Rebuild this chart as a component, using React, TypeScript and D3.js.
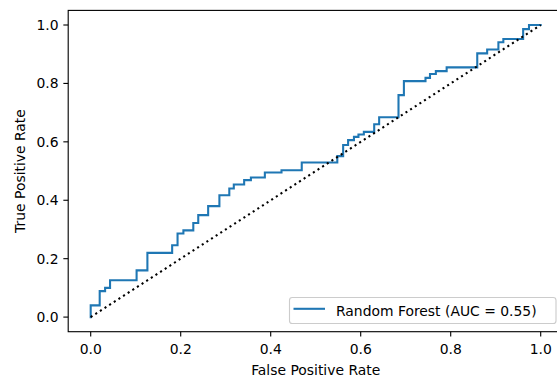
import React from "react";
import * as d3 from "d3";

const fprValues = [
  0, 0, 0.02, 0.02, 0.032, 0.032, 0.043, 0.043, 0.102, 0.102, 0.126, 0.126,
  0.181, 0.181, 0.193, 0.193, 0.206, 0.206, 0.228, 0.228, 0.239, 0.239, 0.261,
  0.261, 0.286, 0.286, 0.308, 0.308, 0.318, 0.318, 0.341, 0.341, 0.356, 0.356,
  0.387, 0.387, 0.424, 0.424, 0.469, 0.469, 0.548, 0.548, 0.561, 0.561, 0.572,
  0.572, 0.585, 0.585, 0.595, 0.595, 0.607, 0.607, 0.63, 0.63, 0.641, 0.641,
  0.684, 0.684, 0.696, 0.696, 0.744, 0.744, 0.754, 0.754, 0.767, 0.767, 0.791,
  0.791, 0.859, 0.859, 0.881, 0.881, 0.906, 0.906, 0.917, 0.917, 0.961, 0.961,
  0.974, 0.974, 1.0,
];
const tprValues = [
  0, 0.04, 0.04, 0.089, 0.089, 0.1, 0.1, 0.126, 0.126, 0.16, 0.16, 0.22, 0.22,
  0.246, 0.246, 0.286, 0.286, 0.297, 0.297, 0.322, 0.322, 0.349, 0.349, 0.38,
  0.38, 0.417, 0.417, 0.44, 0.44, 0.454, 0.454, 0.469, 0.469, 0.478, 0.478,
  0.495, 0.495, 0.503, 0.503, 0.529, 0.529, 0.551, 0.551, 0.589, 0.589, 0.606,
  0.606, 0.617, 0.617, 0.625, 0.625, 0.634, 0.634, 0.66, 0.66, 0.684, 0.684,
  0.76, 0.76, 0.808, 0.808, 0.819, 0.819, 0.832, 0.832, 0.842, 0.842, 0.855,
  0.855, 0.903, 0.903, 0.916, 0.916, 0.941, 0.941, 0.952, 0.952, 0.986, 0.986,
  1.0, 1.0,
];
const chanceLine = [0, 1];
const tickValues = [0, 0.2, 0.4, 0.6, 0.8, 1.0];
const seriesLabel = "Random Forest (AUC = 0.55)";
const xLabel = "False Positive Rate";
const yLabel = "True Positive Rate";

const W = 557;
const H = 382;
const left = 68.2;
const right = 563.2;
const top = 10.4;
const bottom = 331.7;
const FONT = "DejaVu Sans, sans-serif";
const FS = 13.9;
const TICK = 4.86;

export default function App() {
  const x = d3.scaleLinear().domain([-0.05, 1.05]).range([left, right]);
  const y = d3.scaleLinear().domain([-0.05, 1.05]).range([bottom, top]);
  const pts: [number, number][] = fprValues.map((f, i) => [f, tprValues[i]]);
  const line = d3
    .line<[number, number]>()
    .x((d) => x(d[0]))
    .y((d) => y(d[1]));
  const diag: [number, number][] = chanceLine.map((v) => [v, v]);

  const legX = 289.5;
  const legR = 556;
  const legY = 297.5;
  const legB = 323.5;

  return (
    <svg
      width={W}
      height={H}
      style={{ position: "absolute", left: 0, top: 0, background: "#fff" }}
      fontFamily={FONT}
    >
      <rect x={0} y={0} width={W} height={H} fill="#fff" />
      <path
        d={line(pts) || ""}
        fill="none"
        stroke="#1f77b4"
        strokeWidth={2.08}
        strokeLinejoin="miter"
        strokeLinecap="square"
      />
      <path
        d={line(diag) || ""}
        fill="none"
        stroke="#000"
        strokeWidth={2.08}
        strokeDasharray="2.08 3.44"
      />
      <rect
        x={left}
        y={top}
        width={right - left}
        height={bottom - top}
        fill="none"
        stroke="#000"
        strokeWidth={1.11}
      />
      {tickValues.map((t) => (
        <g key={"x" + t}>
          <line
            x1={x(t)}
            x2={x(t)}
            y1={bottom}
            y2={bottom + TICK}
            stroke="#000"
            strokeWidth={1.11}
          />
          <text
            x={x(t)}
            y={353.5}
            textAnchor="middle"
            fontSize={FS}
            fill="#000"
          >
            {t.toFixed(1)}
          </text>
        </g>
      ))}
      {tickValues.map((t) => (
        <g key={"y" + t}>
          <line
            x1={left - TICK}
            x2={left}
            y1={y(t)}
            y2={y(t)}
            stroke="#000"
            strokeWidth={1.11}
          />
          <text
            x={left - TICK - 4.86}
            y={y(t) + 5}
            textAnchor="end"
            fontSize={FS}
            fill="#000"
          >
            {t.toFixed(1)}
          </text>
        </g>
      ))}
      <text
        x={(left + right) / 2}
        y={375}
        textAnchor="middle"
        fontSize={FS}
        fill="#000"
      >
        {xLabel}
      </text>
      <text
        transform={`translate(24.5, ${(top + bottom) / 2}) rotate(-90)`}
        textAnchor="middle"
        fontSize={FS}
        fill="#000"
      >
        {yLabel}
      </text>
      <rect
        x={legX}
        y={legY}
        width={legR - legX}
        height={legB - legY}
        rx={2.8}
        fill="#fff"
        fillOpacity={0.8}
        stroke="#cccccc"
        strokeWidth={1.11}
      />
      <line
        x1={293.5}
        x2={325}
        y1={308.8}
        y2={308.8}
        stroke="#1f77b4"
        strokeWidth={2.08}
      />
      <text x={336} y={316} fontSize={FS} fill="#000">
        {seriesLabel}
      </text>
    </svg>
  );
}
